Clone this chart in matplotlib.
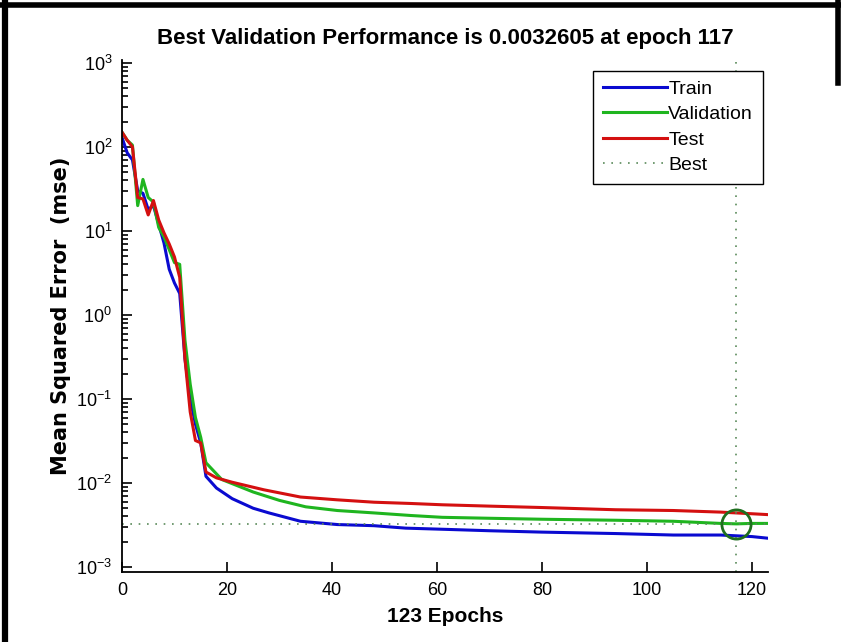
import numpy as np
import matplotlib.pyplot as plt
from matplotlib.lines import Line2D
from matplotlib.ticker import FixedLocator, NullFormatter

plt.rcParams['font.family'] = ['Liberation Sans', 'DejaVu Sans']

# values (mse per epoch)
train_epochs = [0, 1, 2, 3, 4, 5, 6, 7, 8, 9, 10, 11, 12, 13, 14, 15, 16, 18, 21, 25,
                28, 34, 41, 48, 54, 62, 70, 80, 94, 105, 114, 120, 123]
train_mse = [130, 85, 70, 30, 28, 18, 20, 12, 7.2, 3.5, 2.4, 1.8, 0.3, 0.1, 0.05, 0.03,
             0.012, 0.0087, 0.0065, 0.0050, 0.0044, 0.0035, 0.0032, 0.0031, 0.0029,
             0.0028, 0.0027, 0.0026, 0.0025, 0.0024, 0.0024, 0.0023, 0.0022]

val_epochs = [0, 1, 2, 3, 4, 5, 6, 7, 8, 9, 10, 11, 12, 13, 14, 15, 16, 19, 25, 30,
              35, 41, 48, 55, 61, 70, 80, 94, 105, 114, 117, 120, 123]
val_mse = [150, 120, 105, 20, 41, 25, 22, 11, 8.5, 6, 4.2, 4.0, 0.5, 0.15, 0.06, 0.035,
           0.0174, 0.011, 0.0078, 0.0062, 0.0052, 0.0047, 0.0044, 0.0041, 0.0039,
           0.0038, 0.0037, 0.0036, 0.0035, 0.0033, 0.0032605, 0.0033, 0.0033]

test_epochs = [0, 1, 2, 3, 4, 5, 6, 7, 8, 9, 10, 11, 12, 13, 14, 15, 16, 18, 21, 27,
               34, 41, 48, 55, 61, 70, 80, 94, 105, 114, 120, 123]
test_mse = [150, 120, 100, 25, 24, 15.5, 23, 13.5, 9.5, 7, 4.9, 2.8, 0.3, 0.07, 0.032,
            0.03, 0.0135, 0.0115, 0.0102, 0.0083, 0.0068, 0.0063, 0.0059, 0.0057,
            0.0055, 0.0053, 0.0051, 0.0048, 0.0047, 0.0045, 0.0043, 0.0042]

best_epoch = 117
best_perf = 0.0032605
n_epochs = 123
x_ticks = [0, 20, 40, 60, 80, 100, 120]
y_ticks = [1e-3, 1e-2, 1e-1, 1e0, 1e1, 1e2, 1e3]

fig = plt.figure(figsize=(8.41, 6.42), dpi=100)
ax = fig.add_axes([0.145, 0.109, 0.768, 0.797])

ax.plot(train_epochs, train_mse, color='#0a0ad0', lw=2.2, label='Train')
ax.plot(val_epochs, val_mse, color='#1fb51f', lw=2.2, label='Validation')
ax.plot(test_epochs, test_mse, color='#d41010', lw=2.2, label='Test')

# best epoch markers
ax.axvline(best_epoch, color='#5a8a5a', ls=(0, (1, 4)), lw=1.2, label='Best')
ax.axhline(best_perf, color='#5a8a5a', ls=(0, (1, 4)), lw=1.2)
ax.plot([best_epoch], [best_perf], 'o', ms=21, mfc='none', mec='#1f6f1f', mew=2)

ax.set_yscale('log')
ax.set_xlim(0, n_epochs)
ax.set_ylim(10 ** -3.06, 10 ** 3.03)
ax.set_xticks(x_ticks)
ax.yaxis.set_major_locator(FixedLocator(y_ticks))
minors = [m * 10.0 ** e for e in range(-3, 3) for m in range(2, 10)]
ax.yaxis.set_minor_locator(FixedLocator(minors))
ax.yaxis.set_minor_formatter(NullFormatter())

for s in ['top', 'right']:
    ax.spines[s].set_visible(False)
for s in ['left', 'bottom']:
    ax.spines[s].set_linewidth(1.3)
ax.tick_params(which='both', direction='in', top=False, right=False, labelsize=13, width=1.2)
ax.tick_params(which='major', length=7, pad=7)
ax.tick_params(which='minor', length=4)

ax.set_title('Best Validation Performance is 0.0032605 at epoch 117',
             fontsize=16, fontweight='bold', pad=12)
ax.set_xlabel('123 Epochs', fontsize=15, fontweight='bold', labelpad=6)
ax.set_ylabel('Mean Squared Error  (mse)', fontsize=15, fontweight='bold', labelpad=4,
              family=['DejaVu Sans'])

leg = ax.legend(loc='upper right', bbox_to_anchor=(0.992, 0.98), borderaxespad=0,
                fontsize=14, handlelength=3.3, handletextpad=0.05, labelspacing=0.4,
                fancybox=False, framealpha=1, edgecolor='black', borderpad=0.5)
leg.get_frame().set_linewidth(1.0)

# black frame around the screenshot
fig.add_artist(Line2D([0.0065, 0.0065], [0, 1], color='black', lw=4.5, transform=fig.transFigure))
fig.add_artist(Line2D([0, 1], [0.992, 0.992], color='black', lw=4, transform=fig.transFigure))
fig.add_artist(Line2D([0.996, 0.996], [0.87, 1], color='black', lw=4, transform=fig.transFigure))

fig.savefig('out.png', dpi=100)
